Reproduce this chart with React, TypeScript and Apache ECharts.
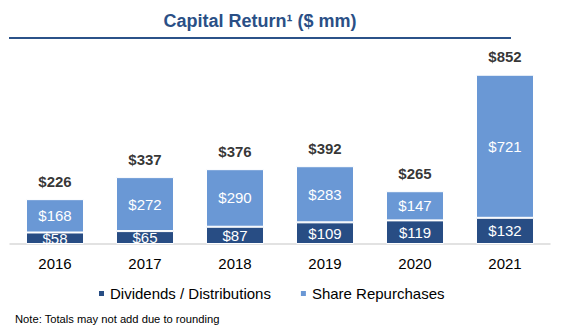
import React, { useEffect, useRef } from "react";
import * as echarts from "echarts";

const years = ["2016", "2017", "2018", "2019", "2020", "2021"];
const dividends = [58, 65, 87, 109, 119, 132];
const repurchases = [168, 272, 290, 283, 147, 721];
const totals = [226, 337, 376, 392, 265, 852];

const FONT = "'Liberation Sans', Arial, sans-serif";
const DARK = "#284d84";
const LIGHT = "#6a98d5";

export default function App() {
  const ref = useRef<HTMLDivElement>(null);
  useEffect(() => {
    if (!ref.current) return;
    const chart = echarts.init(ref.current, null, { renderer: "svg" });
    chart.setOption({
      animation: false,
      textStyle: { fontFamily: FONT },
      grid: { left: 10, right: 13, top: 65.4, bottom: 87, containLabel: false },
      xAxis: {
        type: "category",
        data: years,
        axisLine: { lineStyle: { color: "#d9d9d9", width: 1.5 } },
        axisTick: { show: false },
        axisLabel: { color: "#000", fontSize: 15, fontFamily: FONT, margin: 12 },
      },
      yAxis: { type: "value", min: 0, max: 900, show: false, splitLine: { show: false } },
      legend: {
        data: ["Dividends / Distributions", "Share Repurchases"],
        left: 97,
        top: 286,
        padding: 0,
        icon: "rect",
        itemWidth: 7,
        itemHeight: 7,
        itemGap: 28,
        textStyle: { color: "#000", fontSize: 15, fontFamily: FONT },
      },
      series: [
        {
          name: "Dividends / Distributions",
          type: "bar",
          stack: "total",
          data: dividends,
          barWidth: 58,
          itemStyle: { color: DARK, borderColor: "#fff", borderWidth: 1 },
          label: {
            show: true,
            position: "inside",
            color: "#fff",
            fontSize: 15,
            fontFamily: FONT,
            formatter: (p: any) => "$" + p.value,
          },
        },
        {
          name: "Share Repurchases",
          type: "bar",
          stack: "total",
          data: repurchases,
          barWidth: 58,
          itemStyle: { color: LIGHT, borderColor: "#fff", borderWidth: 1 },
          label: {
            show: true,
            position: "inside",
            color: "#fff",
            fontSize: 15,
            fontFamily: FONT,
            formatter: (p: any) => "$" + p.value,
          },
        },
        {
          name: "Total",
          type: "scatter",
          data: totals,
          symbolSize: 1,
          itemStyle: { color: "rgba(0,0,0,0)" },
          label: {
            show: true,
            position: "top",
            distance: 10,
            color: "#000",
            fontSize: 15,
            fontWeight: "bold",
            fontFamily: FONT,
            formatter: (p: any) => "$" + p.value,
          },
        },
      ],
      graphic: [
        {
          type: "text",
          x: 260,
          y: 20.5,
          style: {
            text: "Capital Return¹ ($ mm)",
            fill: "#2a4f86",
            font: `bold 18px ${FONT}`,
            textAlign: "center",
            textVerticalAlign: "middle",
          },
        },
        {
          type: "rect",
          shape: { x: 9, y: 37, width: 502, height: 2 },
          style: { fill: "#2b5289" },
        },
        {
          type: "text",
          x: 15,
          y: 319,
          style: {
            text: "Note: Totals may not add due to rounding",
            fill: "#000",
            font: `11.2px ${FONT}`,
            textVerticalAlign: "middle",
          },
        },
      ],
    });
    return () => chart.dispose();
  }, []);
  return (
    <div
      ref={ref}
      style={{ position: "absolute", left: 0, top: 0, width: 563, height: 331, background: "#fff" }}
    />
  );
}
